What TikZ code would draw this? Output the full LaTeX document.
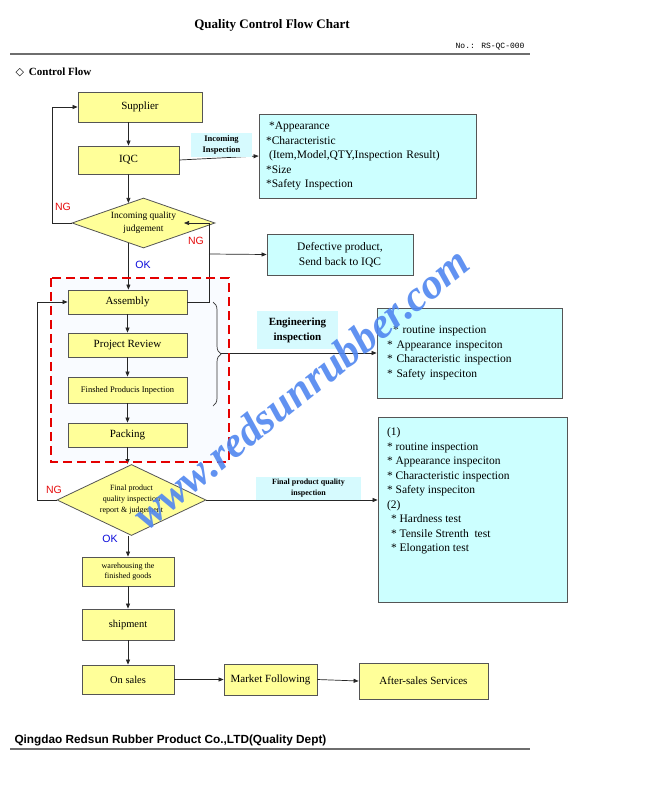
\documentclass[tikz,border=0pt]{standalone}
\usepackage{fontspec}
\setmainfont{Liberation Serif}
\newfontfamily\flagfont{Liberation Sans}
\newfontfamily\footfont{Liberation Sans}
\newfontfamily\symbolfont{DejaVu Sans}
\newfontfamily\docnofont{Liberation Mono}
\usetikzlibrary{shapes.geometric,decorations.pathreplacing,arrows.meta}

\definecolor{boxyellow}{RGB}{255,255,153}
\definecolor{boxcyan}{RGB}{204,255,255}
\definecolor{tagcyan}{RGB}{214,250,254}
\definecolor{boxline}{RGB}{85,85,85}
\definecolor{ngred}{RGB}{230,10,10}
\definecolor{okblue}{RGB}{10,10,220}
\definecolor{markblue}{RGB}{80,135,240}
\definecolor{rulegray}{RGB}{110,110,110}
\definecolor{zonefill}{RGB}{249,251,255}

\begin{document}
\begin{tikzpicture}[x=1pt, y=-1pt,
    flowbox/.style={rectangle, draw=boxline, fill=boxyellow, line width=0.8pt, inner sep=0pt, align=center, font=\fontsize{11}{13}\selectfont},
    judgebox/.style={diamond, draw=boxline, fill=boxyellow, line width=0.8pt, inner sep=0pt, align=center},
    infobox/.style={rectangle, draw=boxline, fill=boxcyan, line width=0.8pt, align=left, font=\fontsize{11.5}{14.5}\selectfont},
    tagbox/.style={rectangle, fill=tagcyan, inner sep=0pt, align=center, font=\bfseries\fontsize{8.5}{11}\selectfont},
    arr/.style={-{Triangle[length=5pt,width=4pt]}, line width=0.7pt, draw=black!85},
    flag/.style={font=\flagfont\fontsize{10.5}{12}\selectfont}]
    \useasboundingbox (0,0) rectangle (670,800);
    \fill[white] (0,0) rectangle (670,800);

    \node[font=\bfseries\fontsize{13}{15}\selectfont] (title) at (272,25) {Quality Control Flow Chart};
    \node[anchor=east, font=\docnofont\fontsize{8}{10}\selectfont] (docno) at (528,47) {No.: RS-QC-000};
    \draw[rulegray, line width=1.5pt] (10,54) -- (530,54);
    \node[anchor=west, font=\bfseries\fontsize{11}{13}\selectfont] (section) at (12,72) {{\symbolfont ◇}\hspace{5pt}Control Flow};

    \fill[zonefill] (51,278) rectangle (229,462);

    \node[flowbox, minimum width=124pt, minimum height=30pt] (supplier) at (140,107) {Supplier};
    \node[flowbox, minimum width=101pt, minimum height=28pt] (iqc) at (128.5,160) {IQC};
    \node[judgebox, shape aspect=2.86, minimum width=143pt, minimum height=50pt, font=\fontsize{9.5}{13}\selectfont] (judge1) at (143.5,223) {Incoming quality\\judgement};
    \node[flowbox, minimum width=119pt, minimum height=24pt] (assembly) at (127.5,302) {Assembly};
    \node[flowbox, minimum width=119pt, minimum height=24pt] (review) at (127.5,345) {Project Review};
    \node[flowbox, minimum width=119pt, minimum height=26pt, font=\fontsize{8.5}{10}\selectfont] (finsp) at (127.5,390) {Finshed Producis Inpection};
    \node[flowbox, minimum width=119pt, minimum height=24pt] (packing) at (127.5,435) {Packing};
    \node[judgebox, shape aspect=2.1, minimum width=149pt, minimum height=71pt, font=\fontsize{8}{11}\selectfont] (judge2) at (131.5,500) {Final product\\quality inspection\\report \& judgement};
    \node[flowbox, minimum width=92pt, minimum height=29pt, font=\fontsize{8}{10.5}\selectfont] (warehouse) at (128,571.5) {warehousing the\\finished goods};
    \node[flowbox, minimum width=92pt, minimum height=31pt, font=\fontsize{10.5}{12}\selectfont] (shipment) at (128,624.5) {shipment};
    \node[flowbox, minimum width=92pt, minimum height=29pt, font=\fontsize{10.5}{12}\selectfont] (onsales) at (128,679.5) {On sales};
    \node[flowbox, minimum width=93pt, minimum height=31pt] (market) at (270.5,679.5) {Market Following};
    \node[flowbox, minimum width=129pt, minimum height=36pt] (aftersales) at (423.5,681) {After-sales Services};

    \node[infobox, inner xsep=7pt, inner ysep=0pt, text width=203pt, minimum height=84pt] (info1) at (367.5,156) {\hspace*{3pt}*Appearance\\{}*Characteristic\\\hspace*{3pt}(Item,Model,QTY,Inspection Result)\\{}*Size\\{}*Safety Inspection};
    \node[infobox, align=center, inner sep=0pt, minimum width=146pt, minimum height=41pt, font=\fontsize{11.5}{15}\selectfont] (defect) at (340,254.5) {Defective product,\\Send back to IQC};
    \node[infobox, inner xsep=10pt, inner ysep=0pt, text width=165pt, minimum height=90pt] (eng) at (469.5,353) {\hspace*{6pt}* routine inspection\\{}* Appearance inspeciton\\{}* Characteristic inspection\\{}* Safety inspeciton};
    \node[infobox, inner xsep=9pt, inner ysep=3pt] (final) at (472.5,509.5) {\parbox[c][179pt][t]{171pt}{\vspace*{8pt}(1)\\{}* routine inspection\\{}* Appearance inspeciton\\{}* Characteristic inspection\\{}* Safety inspeciton\\(2)\\\hspace*{4pt}* Hardness test\\\hspace*{4pt}* Tensile Strenth\ \ test\\\hspace*{4pt}* Elongation test}};

    \coordinate (reentry) at (184,223);
    \coordinate (ngfork) at (209,254);
    \coordinate (bracetip) at (221,353);

    \draw[arr] (iqc.north |- supplier.south) -- (iqc.north);
    \draw[arr] (iqc.south) -- (judge1.127);
    \draw[arr] (judge1.-127) -- (judge1.-127 |- assembly.north);
    \draw[arr] (judge1.west) -- ++(-19,0) |- (supplier.west);
    \draw[arr] (assembly.east) -- ++(22,0) |- (reentry);
    \draw[arr] (ngfork) -- (defect.west);
    \draw[arr] (iqc.east) -- (info1.west);
    \draw[arr] (assembly.south) -- (review.north);
    \draw[arr] (review.south) -- (finsp.north);
    \draw[arr] (finsp.south) -- (packing.north);
    \draw[arr] (packing.south) -- (packing.south |- judge2.north);
    \draw[arr] (judge2.west) -- ++(-19,0) |- (assembly.west);
    \draw[arr] (judge2.east) -- (judge2.east -| final.west);
    \draw[arr] (warehouse.north |- judge2.south) -- (warehouse.north);
    \draw[arr] (warehouse.south) -- (shipment.north);
    \draw[arr] (shipment.south) -- (onsales.north);
    \draw[arr] (onsales.east) -- (market.west);
    \draw[arr] (market.east) -- (aftersales.west);
    \draw[decorate, decoration={brace, amplitude=8pt}, line width=0.7pt, black!80] (213,302) -- (213,406);
    \draw[arr] (bracetip) -- (eng.west);

    \node[tagbox, minimum width=61pt, minimum height=24pt] (tagiqc) at (221.5,145) {Incoming\\Inspection};
    \node[tagbox, minimum width=81pt, minimum height=38pt, font=\bfseries\fontsize{11}{15}\selectfont] (tageng) at (297.5,330) {Engineering\\inspection};
    \node[tagbox, minimum width=105pt, minimum height=23pt, font=\bfseries\fontsize{8}{11}\selectfont] (tagfinal) at (308.5,488.5) {Final product quality\\inspection};

    \node[flag, text=ngred] (ng1) at (63,207) {NG};
    \node[flag, text=ngred] (ng2) at (196,241) {NG};
    \node[flag, text=ngred] (ng3) at (54,490) {NG};
    \node[flag, text=okblue] (ok1) at (143,265) {OK};
    \node[flag, text=okblue] (ok2) at (110,539) {OK};

    \draw[red!90!black, line width=2pt, dash pattern=on 9pt off 5pt] (51,278) rectangle (229,462);

    \node[rotate=39, text=markblue, opacity=0.9, font=\bfseries\itshape\fontsize{43}{43}\selectfont] (mark) at (301,388) {www.redsunrubber.com};

    \node[anchor=west, font=\footfont\bfseries\fontsize{11.8}{13}\selectfont] (footer) at (11,740) {Qingdao Redsun Rubber Product Co.,LTD(Quality Dept)};
    \draw[rulegray, line width=1.5pt] (10,749) -- (530,749);
\end{tikzpicture}
\end{document}
